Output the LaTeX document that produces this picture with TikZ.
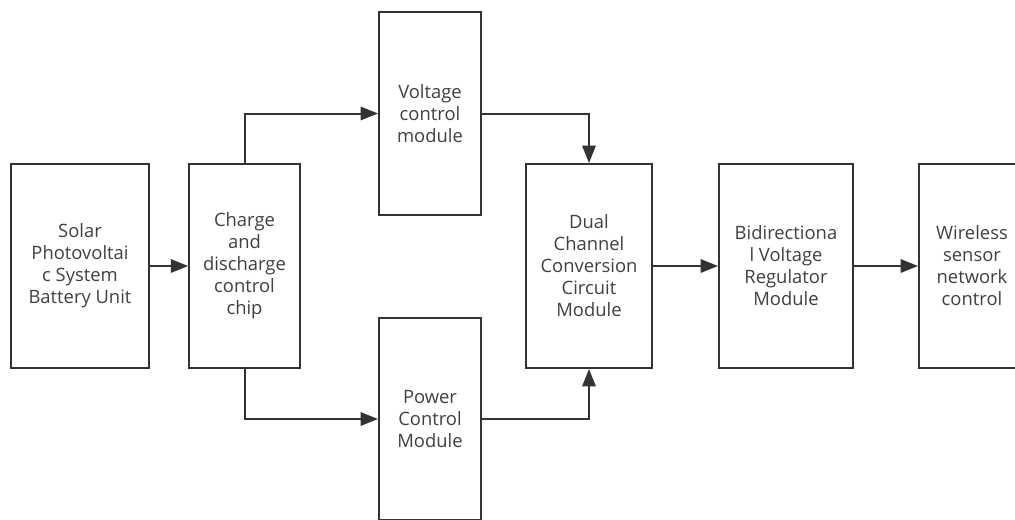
\documentclass[tikz,border=0pt]{standalone}
\usepackage{fontspec}
\setmainfont{Open Sans}
\usetikzlibrary{arrows.meta}
\begin{document}
\begin{tikzpicture}[x=0.75pt,y=-0.75pt,
  block/.style={draw=black!80,line width=1.5pt,fill=white,align=center,
    font=\fontsize{13.8}{16.5}\selectfont,text=black!75,inner sep=0pt},
  link/.style={draw=black!80,line width=1.5pt,-{Triangle[length=13pt,width=10pt]}}]
\useasboundingbox (0,0) rectangle (1015,519);
\clip (0,0) rectangle (1015,519);
% boxes
\node[block,minimum width=103.5pt,minimum height=153pt] (solar) at (80,266)
  {Solar\\Photovoltai\\c System\\Battery Unit};
\node[block,minimum width=83pt,minimum height=153pt] (chip) at (244.5,266)
  {Charge\\and\\discharge\\control\\chip};
\node[block,minimum width=76.5pt,minimum height=152pt] (volt) at (430,113.5)
  {Voltage\\control\\module};
\node[block,minimum width=76.5pt,minimum height=152pt] (power) at (430,419)
  {Power\\Control\\Module};
\node[block,minimum width=94.5pt,minimum height=153pt] (dual) at (589,266)
  {Dual\\Channel\\Conversion\\Circuit\\Module};
\node[block,minimum width=100.5pt,minimum height=153pt] (bidir) at (786,266)
  {Bidirectiona\\l Voltage\\Regulator\\Module};
\node[block,minimum width=79.5pt,minimum height=153pt] (wsn) at (972,266)
  {Wireless\\sensor\\network\\control};
% connections
\draw[link] (solar) -- (chip);
\draw[link] (chip.north) |- (volt.west);
\draw[link] (chip.south) |- (power.west);
\draw[link] (volt.east) -| (dual.north);
\draw[link] (power.east) -| (dual.south);
\draw[link] (dual) -- (bidir);
\draw[link] (bidir) -- (wsn);
\end{tikzpicture}
\end{document}
